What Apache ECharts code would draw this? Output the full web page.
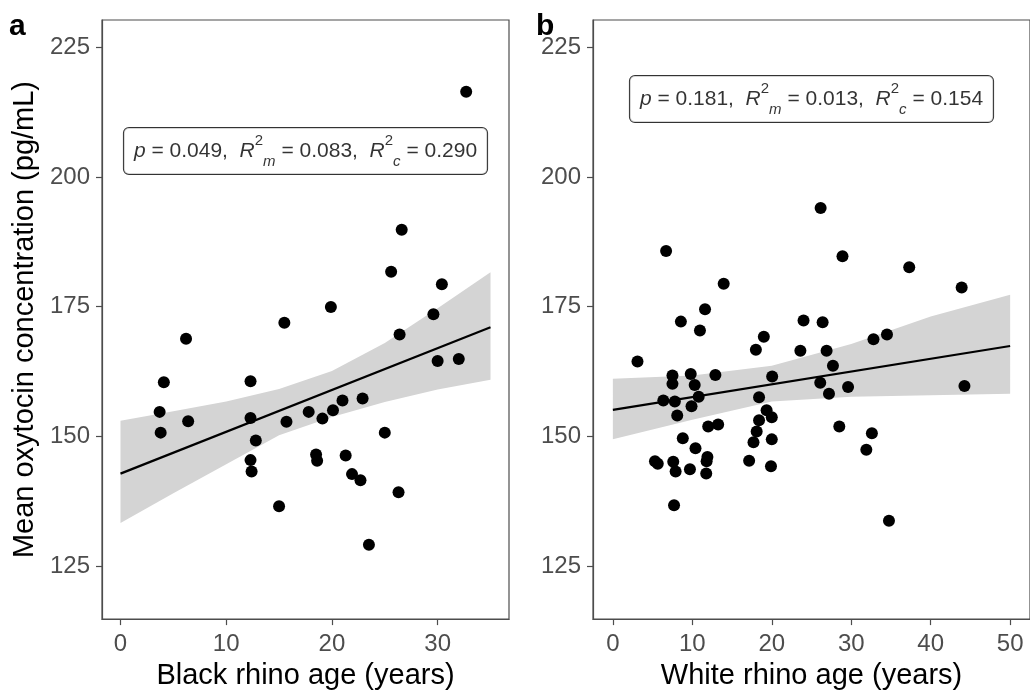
<!DOCTYPE html>
<html>
<head>
<meta charset="utf-8">
<title>Oxytocin concentration by rhino age</title>
<script src="https://cdn.jsdelivr.net/npm/echarts@6/dist/echarts.min.js"></script>
<style>
  html, body { margin: 0; padding: 0; background: #fff; }
  #chart { width: 1030px; height: 695px; }
</style>
</head>
<body>
<div id="chart"></div>
<script>
// ---- Black rhino (panel a) ----
const blackAge = [4.1, 3.7, 3.8, 6.2, 6.4, 12.3, 12.3, 12.8, 12.3, 12.4, 15.5, 15.7, 15.0, 17.8, 19.1, 20.1, 21.0, 22.9, 18.5, 18.6, 19.9, 21.3, 21.9, 22.7, 23.5, 25.0, 26.3, 26.4, 29.6, 30.0, 32.0, 32.7, 26.6, 25.6, 30.4];
const blackOxy = [160.4, 154.7, 150.7, 168.8, 152.9, 160.6, 153.5, 149.2, 145.4, 143.2, 171.9, 152.8, 136.5, 154.7, 153.4, 155.0, 156.9, 157.3, 146.5, 145.3, 174.9, 146.3, 142.7, 141.5, 129.1, 150.7, 139.2, 169.6, 173.5, 164.5, 164.9, 216.4, 189.8, 181.7, 179.3];
// fitted line and its confidence band
const blackFitAge = [0, 35];
const blackFitOxy = [142.8, 171.0];
const blackBandAge = [0, 5, 10, 15, 20, 25, 30, 35];
const blackBandUpper = [153.0, 154.8, 156.7, 159.1, 162.6, 168.0, 174.7, 181.6];
const blackBandLower = [133.3, 139.0, 144.6, 150.2, 153.7, 156.6, 159.0, 160.9];
const blackStats = { p: '0.049', r2m: '0.083', r2c: '0.290', at: [17.5, 205] };

// ---- White rhino (panel b) ----
const whiteAge = [26.15, 6.7, 28.9, 37.3, 43.9, 13.95, 11.6, 8.56, 10.96, 24.0, 26.4, 19.0, 18.0, 23.6, 26.9, 32.8, 34.5, 3.1, 27.7, 7.5, 7.5, 9.8, 10.3, 12.9, 20.05, 26.1, 27.2, 29.6, 44.25, 6.35, 7.8, 10.8, 9.9, 18.4, 8.1, 19.35, 20.0, 18.4, 12.0, 13.25, 28.5, 32.6, 8.8, 18.1, 17.7, 20.0, 10.4, 31.9, 5.3, 5.65, 7.6, 7.9, 9.7, 11.9, 11.8, 11.75, 17.15, 19.9, 7.7, 34.75];
const whiteOxy = [194.0, 185.7, 184.7, 182.6, 178.7, 179.4, 174.5, 172.1, 170.4, 172.3, 172.0, 169.2, 166.7, 166.5, 166.5, 168.7, 169.6, 164.4, 163.6, 161.7, 160.1, 162.0, 159.9, 161.8, 161.5, 160.3, 158.2, 159.5, 159.7, 156.9, 156.7, 157.6, 155.8, 157.5, 154.0, 155.0, 153.65, 153.1, 151.9, 152.25, 151.9, 150.6, 149.6, 150.9, 148.85, 149.4, 147.7, 147.4, 145.2, 144.7, 145.1, 143.2, 143.65, 146.0, 145.2, 142.8, 145.3, 144.2, 136.7, 133.7];
const whiteFitAge = [0, 50];
const whiteFitOxy = [155.1, 167.4];
const whiteBandAge = [0, 10, 20, 30, 40, 50];
const whiteBandUpper = [161.1, 161.7, 163.6, 167.8, 173.1, 177.3];
const whiteBandLower = [149.4, 153.2, 156.7, 157.6, 157.9, 158.2];
const whiteStats = { p: '0.181', r2m: '0.013', r2c: '0.154', at: [25, 215] };

// ---- axis ticks ----
const blackAgeTicks = [0, 10, 20, 30];
const whiteAgeTicks = [0, 10, 20, 30, 40, 50];
const oxyTicks = [125, 150, 175, 200, 225];

const FONT = "'Liberation Sans', Arial, Helvetica, sans-serif";
const AXIS_GREY = '#4d4d4d';
const LABEL_GREY = '#4d4d4d';

const zip = (xs, ys) => xs.map((x, i) => [x, ys[i]]);

function xAxisFor(gridIndex, min, max, ticks, title) {
  return {
    gridIndex, type: 'value', min, max,
    axisLine: { show: true, onZero: false, lineStyle: { color: AXIS_GREY, width: 1.2 } },
    axisTick: { show: true, length: 6, customValues: ticks, lineStyle: { color: AXIS_GREY, width: 1.2 } },
    axisLabel: { customValues: ticks, color: LABEL_GREY, fontSize: 24, fontFamily: FONT, margin: 13 },
    splitLine: { show: false },
    name: title, nameLocation: 'middle', nameGap: 38,
    nameTextStyle: { color: '#000', fontSize: 29, fontFamily: FONT }
  };
}

function yAxisFor(gridIndex, title) {
  return {
    gridIndex, type: 'value', min: 114.75, max: 230.25,
    axisLine: { show: true, onZero: false, lineStyle: { color: AXIS_GREY, width: 1.2 } },
    axisTick: { show: true, length: 6, customValues: oxyTicks, lineStyle: { color: AXIS_GREY, width: 1.2 } },
    axisLabel: { customValues: oxyTicks, color: LABEL_GREY, fontSize: 24, fontFamily: FONT, margin: 12 },
    splitLine: { show: false },
    name: title, nameLocation: 'middle', nameGap: 63,
    nameTextStyle: { color: '#000', fontSize: 29, fontFamily: FONT }
  };
}

// confidence band drawn as one polygon through the axis scales
function bandSeries(idx, xs, upper, lower) {
  return {
    type: 'custom', xAxisIndex: idx, yAxisIndex: idx, z: 1, silent: true,
    data: [0],
    renderItem: function (params, api) {
      const pts = [];
      for (let i = 0; i < xs.length; i++) pts.push(api.coord([xs[i], upper[i]]));
      for (let i = xs.length - 1; i >= 0; i--) pts.push(api.coord([xs[i], lower[i]]));
      return { type: 'polygon', shape: { points: pts }, style: { fill: '#d4d4d4' } };
    }
  };
}

function fitSeries(idx, xs, ys) {
  return {
    type: 'line', xAxisIndex: idx, yAxisIndex: idx, z: 3, silent: true,
    data: zip(xs, ys), symbol: 'none',
    lineStyle: { color: '#000', width: 2.2 }
  };
}

function pointSeries(idx, xs, ys) {
  return {
    type: 'scatter', xAxisIndex: idx, yAxisIndex: idx, z: 4, silent: true,
    data: zip(xs, ys), symbolSize: 12,
    itemStyle: { color: '#000', opacity: 1 }
  };
}

function statsLabel(idx, s) {
  return {
    type: 'scatter', xAxisIndex: idx, yAxisIndex: idx, z: 5, silent: true,
    data: [s.at], symbolSize: 0,
    label: {
      show: true, position: 'inside',
      formatter: '{it|p} = ' + s.p + ',  {it|R}{sup|2}{sub|m} = ' + s.r2m + ',  {it|R}{sup|2}{sub|c} = ' + s.r2c,
      color: '#000', fontSize: 21, fontFamily: FONT, lineHeight: 36,
      backgroundColor: '#fff', borderColor: '#000', borderWidth: 1, borderRadius: 5,
      padding: [5, 10, 5, 10],
      rich: {
        it: { fontStyle: 'italic', fontSize: 21, fontFamily: FONT, lineHeight: 36 },
        sup: { fontSize: 15, fontFamily: FONT, verticalAlign: 'top', lineHeight: 15 },
        sub: { fontSize: 15, fontStyle: 'italic', fontFamily: FONT, verticalAlign: 'bottom', lineHeight: 21 }
      }
    }
  };
}

const chart = echarts.init(document.getElementById('chart'), null, { renderer: 'canvas' });
chart.setOption({
  animation: false,
  backgroundColor: '#fff',
  textStyle: { fontFamily: FONT },
  grid: [
    { left: 102, top: 20, width: 407, height: 600, show: true, borderColor: AXIS_GREY, borderWidth: 1.2, backgroundColor: 'transparent' },
    { left: 593, top: 20, width: 442, height: 600, show: true, borderColor: AXIS_GREY, borderWidth: 1.2, backgroundColor: 'transparent' }
  ],
  xAxis: [
    xAxisFor(0, -1.75, 36.75, blackAgeTicks, 'Black rhino age (years)'),
    xAxisFor(1, -2.5, 52.5, whiteAgeTicks, 'White rhino age (years)')
  ],
  yAxis: [
    yAxisFor(0, 'Mean oxytocin concentration (pg/mL)'),
    yAxisFor(1, '')
  ],
  graphic: [
    { type: 'text', left: 9, top: 12, style: { text: 'a', fontSize: 30, fontWeight: 'bold', fontFamily: FONT, fill: '#000' } },
    { type: 'text', left: 536, top: 12, style: { text: 'b', fontSize: 30, fontWeight: 'bold', fontFamily: FONT, fill: '#000' } }
  ],
  series: [
    bandSeries(0, blackBandAge, blackBandUpper, blackBandLower),
    fitSeries(0, blackFitAge, blackFitOxy),
    pointSeries(0, blackAge, blackOxy),
    statsLabel(0, blackStats),
    bandSeries(1, whiteBandAge, whiteBandUpper, whiteBandLower),
    fitSeries(1, whiteFitAge, whiteFitOxy),
    pointSeries(1, whiteAge, whiteOxy),
    statsLabel(1, whiteStats)
  ]
});
</script>
</body>
</html>
